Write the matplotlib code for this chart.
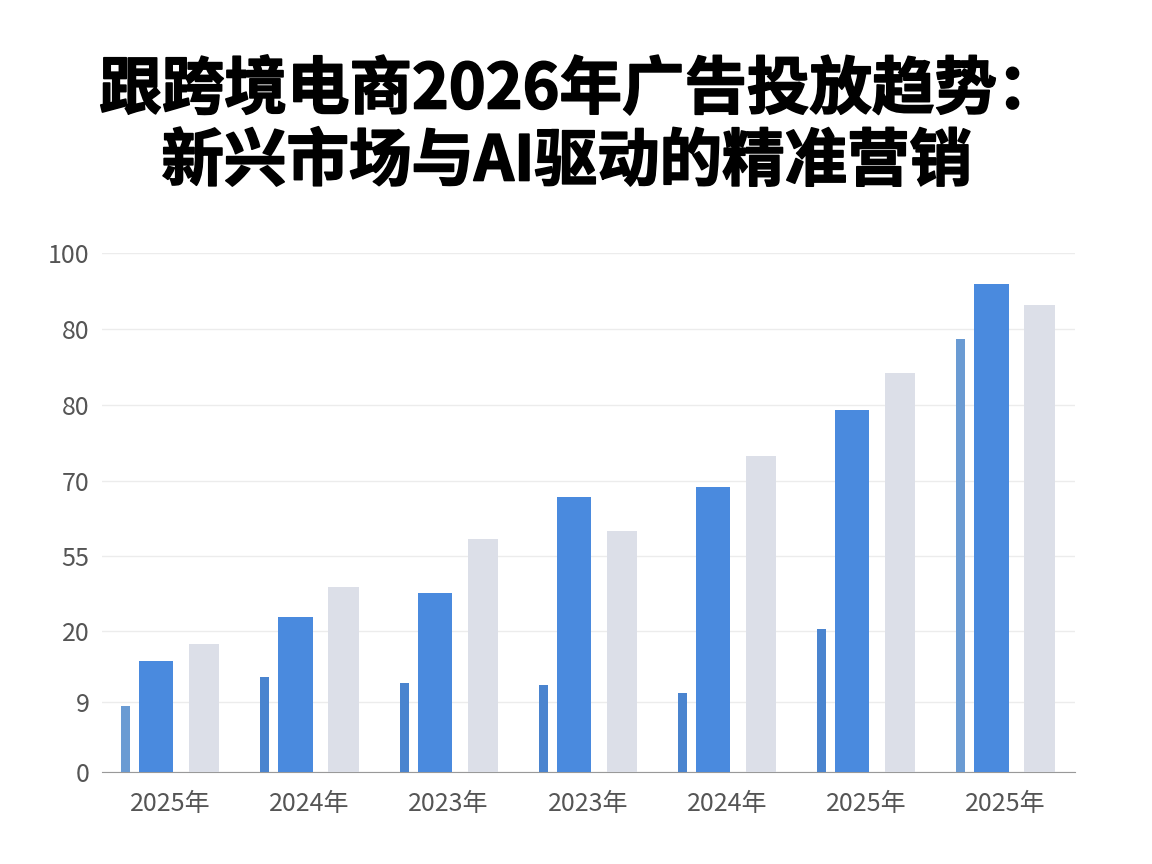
import matplotlib
matplotlib.use('Agg')
import matplotlib.pyplot as plt
import matplotlib.patheffects as pe
import numpy as np

plt.rcParams['font.family'] = ['Noto Sans CJK SC', 'DejaVu Sans']

# data (axis units, 0 at baseline, 100 at top gridline)
years = ['2025年', '2024年', '2023年', '2023年', '2024年', '2025年', '2025年']
thin_vals = [12.7, 18.3, 17.1, 16.8, 15.2, 27.6, 83.4]
blue_vals = [21.4, 29.9, 34.5, 53.0, 54.9, 69.7, 94.0]
gray_vals = [24.7, 35.6, 44.9, 46.4, 60.9, 76.9, 90.0]
tick_pos = [0, 13.5, 27.2, 41.6, 56.1, 70.7, 85.4, 100]
tick_labels = ['0', '9', '20', '55', '70', '80', '80', '100']
thin_colors = ['#6a9bd3', '#4a84cf', '#4a84cf', '#4a84cf', '#4a84cf', '#4a84cf', '#6a9bd3']

fig = plt.figure(figsize=(11.52, 8.64), dpi=100)
ax = fig.add_axes([102/1152, 1 - 772/864, (1075-102)/1152, (772-253)/864])

x = np.arange(len(years))
ax.bar(x - 0.32, thin_vals, width=0.065, color=thin_colors, zorder=3)
ax.bar(x - 0.10, blue_vals, width=0.245, color='#4a8ade', zorder=3)
ax.bar(x + 0.245, gray_vals, width=0.216, color='#dcdfe8', zorder=3)

ax.set_xlim(-0.49, 6.5)
ax.set_ylim(0, 100)
ax.set_yticks(tick_pos)
ax.set_yticklabels(tick_labels)
ax.set_xticks(x)
ax.set_xticklabels(years)
ax.tick_params(axis='both', length=0, labelsize=18, labelcolor='#555555')
ax.tick_params(axis='y', pad=9)
ax.tick_params(axis='x', pad=14)
ax.grid(axis='y', color='#ececec', linewidth=1, zorder=0)
for s in ['top', 'right', 'left']:
    ax.spines[s].set_visible(False)
ax.spines['bottom'].set_color('#999999')

stroke = [pe.withStroke(linewidth=1.2, foreground='black')]
fig.text(0.503, 1 - 90/864, '跟跨境电商2026年广告投放趋势：', ha='center', va='center',
         fontsize=45, fontweight='black', color='black', path_effects=stroke)
fig.text(0.492, 1 - 162/864, '新兴市场与AI驱动的精准营销', ha='center', va='center',
         fontsize=45, fontweight='black', color='black', path_effects=stroke)

fig.savefig('out.png', dpi=100)
